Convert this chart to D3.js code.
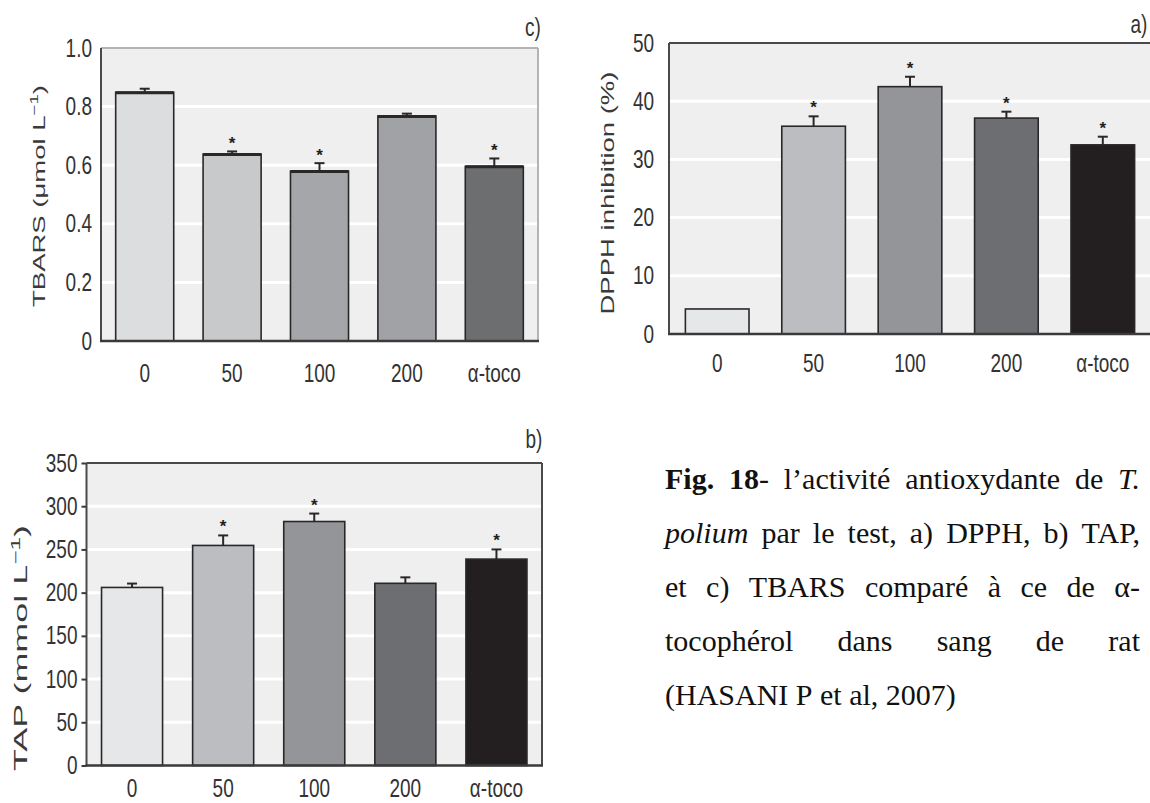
<!DOCTYPE html>
<html>
<head>
<meta charset="utf-8">
<script src="https://cdn.jsdelivr.net/npm/d3@7"></script>
<style>
  body { margin: 0; background: #fff; }
  svg { display: block; }
</style>
</head>
<body>
<div id="fig"></div>
<script>
// three bar panels + caption

var categories = ["0", "50", "100", "200", "α-toco"];

// c) TBARS (µmol/L)
var tbarsVals = [0.849, 0.638, 0.580, 0.768, 0.596];
var tbarsErr = [0.012, 0.009, 0.027, 0.008, 0.027];
var tbarsStar = [false, true, true, false, true];
var tbarsTicks = [0, 0.2, 0.4, 0.6, 0.8, 1.0];

// a) DPPH inhibition (%)
var dpphVals = [4.3, 35.7, 42.5, 37.1, 32.5];
var dpphErr = [0, 1.7, 1.7, 1.1, 1.4];
var dpphStar = [false, true, true, true, true];
var dpphTicks = [0, 10, 20, 30, 40, 50];

// b) TAP (mmol/L)
var tapVals = [206, 254.6, 282.3, 210.8, 238.8];
var tapErr = [4.5, 11.6, 9.2, 6.9, 11.2];
var tapStar = [false, true, true, false, true];
var tapTicks = [0, 50, 100, 150, 200, 250, 300, 350];

var greysC = ["#dcdddf", "#c8c9cb", "#a5a6a9", "#a1a2a5", "#6d6e70"];
var greysAB = ["#e6e7e8", "#bcbdc0", "#939598", "#6d6e71", "#231f20"];

var captionLines = [
    {just: true, words: [[["Fig.", "b"]], [["18", "b"], ["-", "n"]], [["l’activité", "n"]], [["antioxydante", "n"]], [["de", "n"]], [["T.", "i"]]]},
    {just: true, words: [[["polium", "i"]], [["par", "n"]], [["le", "n"]], [["test,", "n"]], [["a)", "n"]], [["DPPH,", "n"]], [["b)", "n"]], [["TAP,", "n"]]]},
    {just: true, words: [[["et", "n"]], [["c)", "n"]], [["TBARS", "n"]], [["comparé", "n"]], [["à", "n"]], [["ce", "n"]], [["de", "n"]], [["α-", "n"]]]},
    {just: true, words: [[["tocophérol", "n"]], [["dans", "n"]], [["sang", "n"]], [["de", "n"]], [["rat", "n"]]]},
    {just: false, words: [[["(HASANI", "n"]], [["P", "n"]], [["et", "n"]], [["al,", "n"]], [["2007)", "n"]]]}
];

var W = 1150, H = 803;
var sans = "'Liberation Sans', Arial, sans-serif";
var serif = "'Liberation Serif', 'Times New Roman', serif";
var SQ = 0.76;      // the figure was stretched vertically: squeeze glyphs
var tickFs = 25;

var svg = d3.select("#fig").append("svg")
    .attr("width", W)
    .attr("height", H);

function narrowText(sel, xpos) {
    sel.attr("font-family", sans).attr("font-size", tickFs).attr("fill", "#333")
	.attr("transform", "scale(" + SQ + ",1)")
	.attr("x", xpos / SQ);
}

function drawPanel(p) {
    var g = svg.append("g").attr("class", "panel");
    var x = d3.scaleBand().domain(categories)
	.range([p.l, p.r]).paddingInner(p.pad).paddingOuter(p.pad / 2);
    var y = d3.scaleLinear().domain([0, p.max]).range([p.b, p.t]);

    g.append("rect")
	.attr("x", p.l).attr("y", p.t)
	.attr("width", p.r - p.l).attr("height", p.b - p.t)
	.attr("fill", "#efefef");

    g.selectAll("line.grid").data(p.ticks.filter(function(d){return d > 0 && d < p.max;}))
	.enter().append("line")
	.attr("class", "grid")
	.attr("x1", p.l).attr("x2", p.r)
	.attr("y1", function(d){return y(d)}).attr("y2", function(d){return y(d)})
	.attr("stroke", "#fff").attr("stroke-width", 3);

    var data = categories.map(function(c, i) {
	return {cat: c, v: p.vals[i], e: p.errs[i], star: p.stars[i], color: p.colors[i]};
    });

    g.selectAll("rect.bar").data(data)
	.enter().append("rect")
	.attr("class", "bar")
	.attr("x", function(d){return x(d.cat)})
	.attr("y", function(d){return y(d.v)})
	.attr("width", x.bandwidth())
	.attr("height", function(d){return y(0) - y(d.v)})
	.attr("fill", function(d){return d.color})
	.attr("stroke", "#2a2728").attr("stroke-width", 1.6);

    if (p.thickTop) {
	g.selectAll("line.top").data(data)
	    .enter().append("line")
	    .attr("x1", function(d){return x(d.cat)})
	    .attr("x2", function(d){return x(d.cat) + x.bandwidth()})
	    .attr("y1", function(d){return y(d.v) + 0.5})
	    .attr("y2", function(d){return y(d.v) + 0.5})
	    .attr("stroke", "#2a2728").attr("stroke-width", 3);
    }

    var withErr = data.filter(function(d){return d.e > 0;});
    var cx = function(d){return x(d.cat) + x.bandwidth() / 2;};
    g.selectAll("line.err").data(withErr)
	.enter().append("line")
	.attr("x1", cx).attr("x2", cx)
	.attr("y1", function(d){return y(d.v)})
	.attr("y2", function(d){return y(d.v + d.e)})
	.attr("stroke", "#2a2728").attr("stroke-width", 2);
    g.selectAll("line.cap").data(withErr)
	.enter().append("line")
	.attr("x1", function(d){return cx(d) - 5}).attr("x2", function(d){return cx(d) + 5})
	.attr("y1", function(d){return y(d.v + d.e)})
	.attr("y2", function(d){return y(d.v + d.e)})
	.attr("stroke", "#2a2728").attr("stroke-width", 2);

    g.selectAll("text.star").data(data.filter(function(d){return d.star;}))
	.enter().append("text")
	.attr("x", cx)
	.attr("y", function(d){return y(d.v + d.e) + p.starDy})
	.attr("text-anchor", "middle")
	.attr("font-family", sans).attr("font-weight", "bold").attr("font-size", 17)
	.attr("fill", "#231f20")
	.text("*");

    // frame
    var fr = p.frame;
    g.append("line").attr("x1", p.l).attr("x2", p.r).attr("y1", p.t).attr("y2", p.t)
	.attr("stroke", fr.top).attr("stroke-width", 2);
    g.append("line").attr("x1", p.r).attr("x2", p.r).attr("y1", p.t).attr("y2", p.b)
	.attr("stroke", fr.right).attr("stroke-width", 2);
    g.append("line").attr("x1", p.l).attr("x2", p.l).attr("y1", p.t).attr("y2", p.b)
	.attr("stroke", fr.left).attr("stroke-width", 2);
    g.append("line").attr("x1", p.l - 1).attr("x2", p.r + 1).attr("y1", p.b).attr("y2", p.b)
	.attr("stroke", "#3a3a3a").attr("stroke-width", 2.5);

    var ya = g.append("g")
	.attr("transform", "translate(" + p.l + ",0)")
	.call(d3.axisLeft(y).tickValues(p.ticks).tickSize(p.tickLen)
	      .tickPadding(p.yPad).tickFormat(p.fmt));
    ya.select(".domain").remove();
    ya.selectAll("line").attr("stroke", "#3a3a3a").attr("stroke-width", 2);
    narrowText(ya.selectAll("text"), -(p.tickLen + p.yPad));

    var xa = g.append("g")
	.attr("transform", "translate(0," + p.b + ")")
	.call(d3.axisBottom(x).tickSize(0).tickPadding(p.xPad));
    xa.select(".domain").remove();
    narrowText(xa.selectAll("text"), 0);

    // axis title, stretched along its length like the source
    var yt = g.append("text")
	.attr("transform", "translate(" + p.titleX + "," + p.titleY + ") rotate(-90)")
	.attr("text-anchor", "middle")
	.attr("font-family", sans).attr("font-size", p.titleFs).attr("fill", "#3a3a3a")
	.attr("textLength", p.titleLen).attr("lengthAdjust", "spacingAndGlyphs");
    yt.append("tspan").text(p.title);
    if (p.sup) {
	yt.append("tspan").attr("font-size", p.titleFs * 0.68).attr("dy", -7).text(p.sup);
	yt.append("tspan").attr("dy", 7).text(")");
    }

    g.append("text")
	.attr("y", p.letterY)
	.attr("text-anchor", "middle")
	.call(narrowText, p.letterX)
	.text(p.letter);
}

drawPanel({
    vals: tbarsVals, errs: tbarsErr, stars: tbarsStar, colors: greysC,
    max: 1.0, ticks: tbarsTicks, fmt: function(d){return d === 0 ? "0" : d.toFixed(1);},
    l: 101, r: 538, t: 48, b: 341, pad: 0.336,
    tickLen: 0, yPad: 9, xPad: 23, starDy: -2, thickTop: true,
    frame: {top: "#b4b4b4", right: "#b4b4b4", left: "#4a4a4a"},
    title: "TBARS (μmol L", sup: "−1", titleX: 45, titleY: 196, titleFs: 17, titleLen: 222,
    letter: "c)", letterX: 533, letterY: 36
});

drawPanel({
    vals: dpphVals, errs: dpphErr, stars: dpphStar, colors: greysAB,
    max: 50, ticks: dpphTicks, fmt: d3.format("d"),
    l: 669, r: 1151, t: 43, b: 334, pad: 0.34,
    tickLen: 0, yPad: 15, xPad: 20, starDy: -3, thickTop: false,
    frame: {top: "#4a4a4a", right: "#4a4a4a", left: "#4a4a4a"},
    title: "DPPH inhibition (%)", sup: null, titleX: 614, titleY: 193, titleFs: 19, titleLen: 243,
    letter: "a)", letterX: 1139, letterY: 33
});

drawPanel({
    vals: tapVals, errs: tapErr, stars: tapStar, colors: greysAB,
    max: 350, ticks: tapTicks, fmt: d3.format("d"),
    l: 86.5, r: 542, t: 463, b: 765.5, pad: 0.33,
    tickLen: 5, yPad: 4, xPad: 14, starDy: -3, thickTop: false,
    frame: {top: "#4a4a4a", right: "#4a4a4a", left: "#4a4a4a"},
    title: "TAP (mmol L", sup: "−1", titleX: 27, titleY: 648, titleFs: 18, titleLen: 246,
    letter: "b)", letterX: 534, letterY: 448
});

// caption, justified by hand
function drawCaption() {
    var left = 665, right = 1140, base0 = 489, lead = 54, fs = 30;
    var cap = svg.append("g").attr("class", "caption");
    captionLines.forEach(function(line, li) {
	var nodes = line.words.map(function(runs) {
	    var t = cap.append("text")
		.attr("y", base0 + li * lead)
		.attr("font-family", serif).attr("font-size", fs).attr("fill", "#111");
	    runs.forEach(function(r) {
		t.append("tspan")
		    .attr("font-weight", r[1] === "b" ? "bold" : "normal")
		    .attr("font-style", r[1] === "i" ? "italic" : "normal")
		    .text(r[0]);
	    });
	    return t;
	});
	var widths = nodes.map(function(t){return t.node().getComputedTextLength();});
	var total = d3.sum(widths);
	var gap = line.just ? (right - left - total) / (nodes.length - 1) : fs * 0.25;
	var xpos = left;
	nodes.forEach(function(t, i) {
	    t.attr("x", xpos);
	    xpos += widths[i] + gap;
	});
    });
}

drawCaption();
</script>
</body>
</html>
